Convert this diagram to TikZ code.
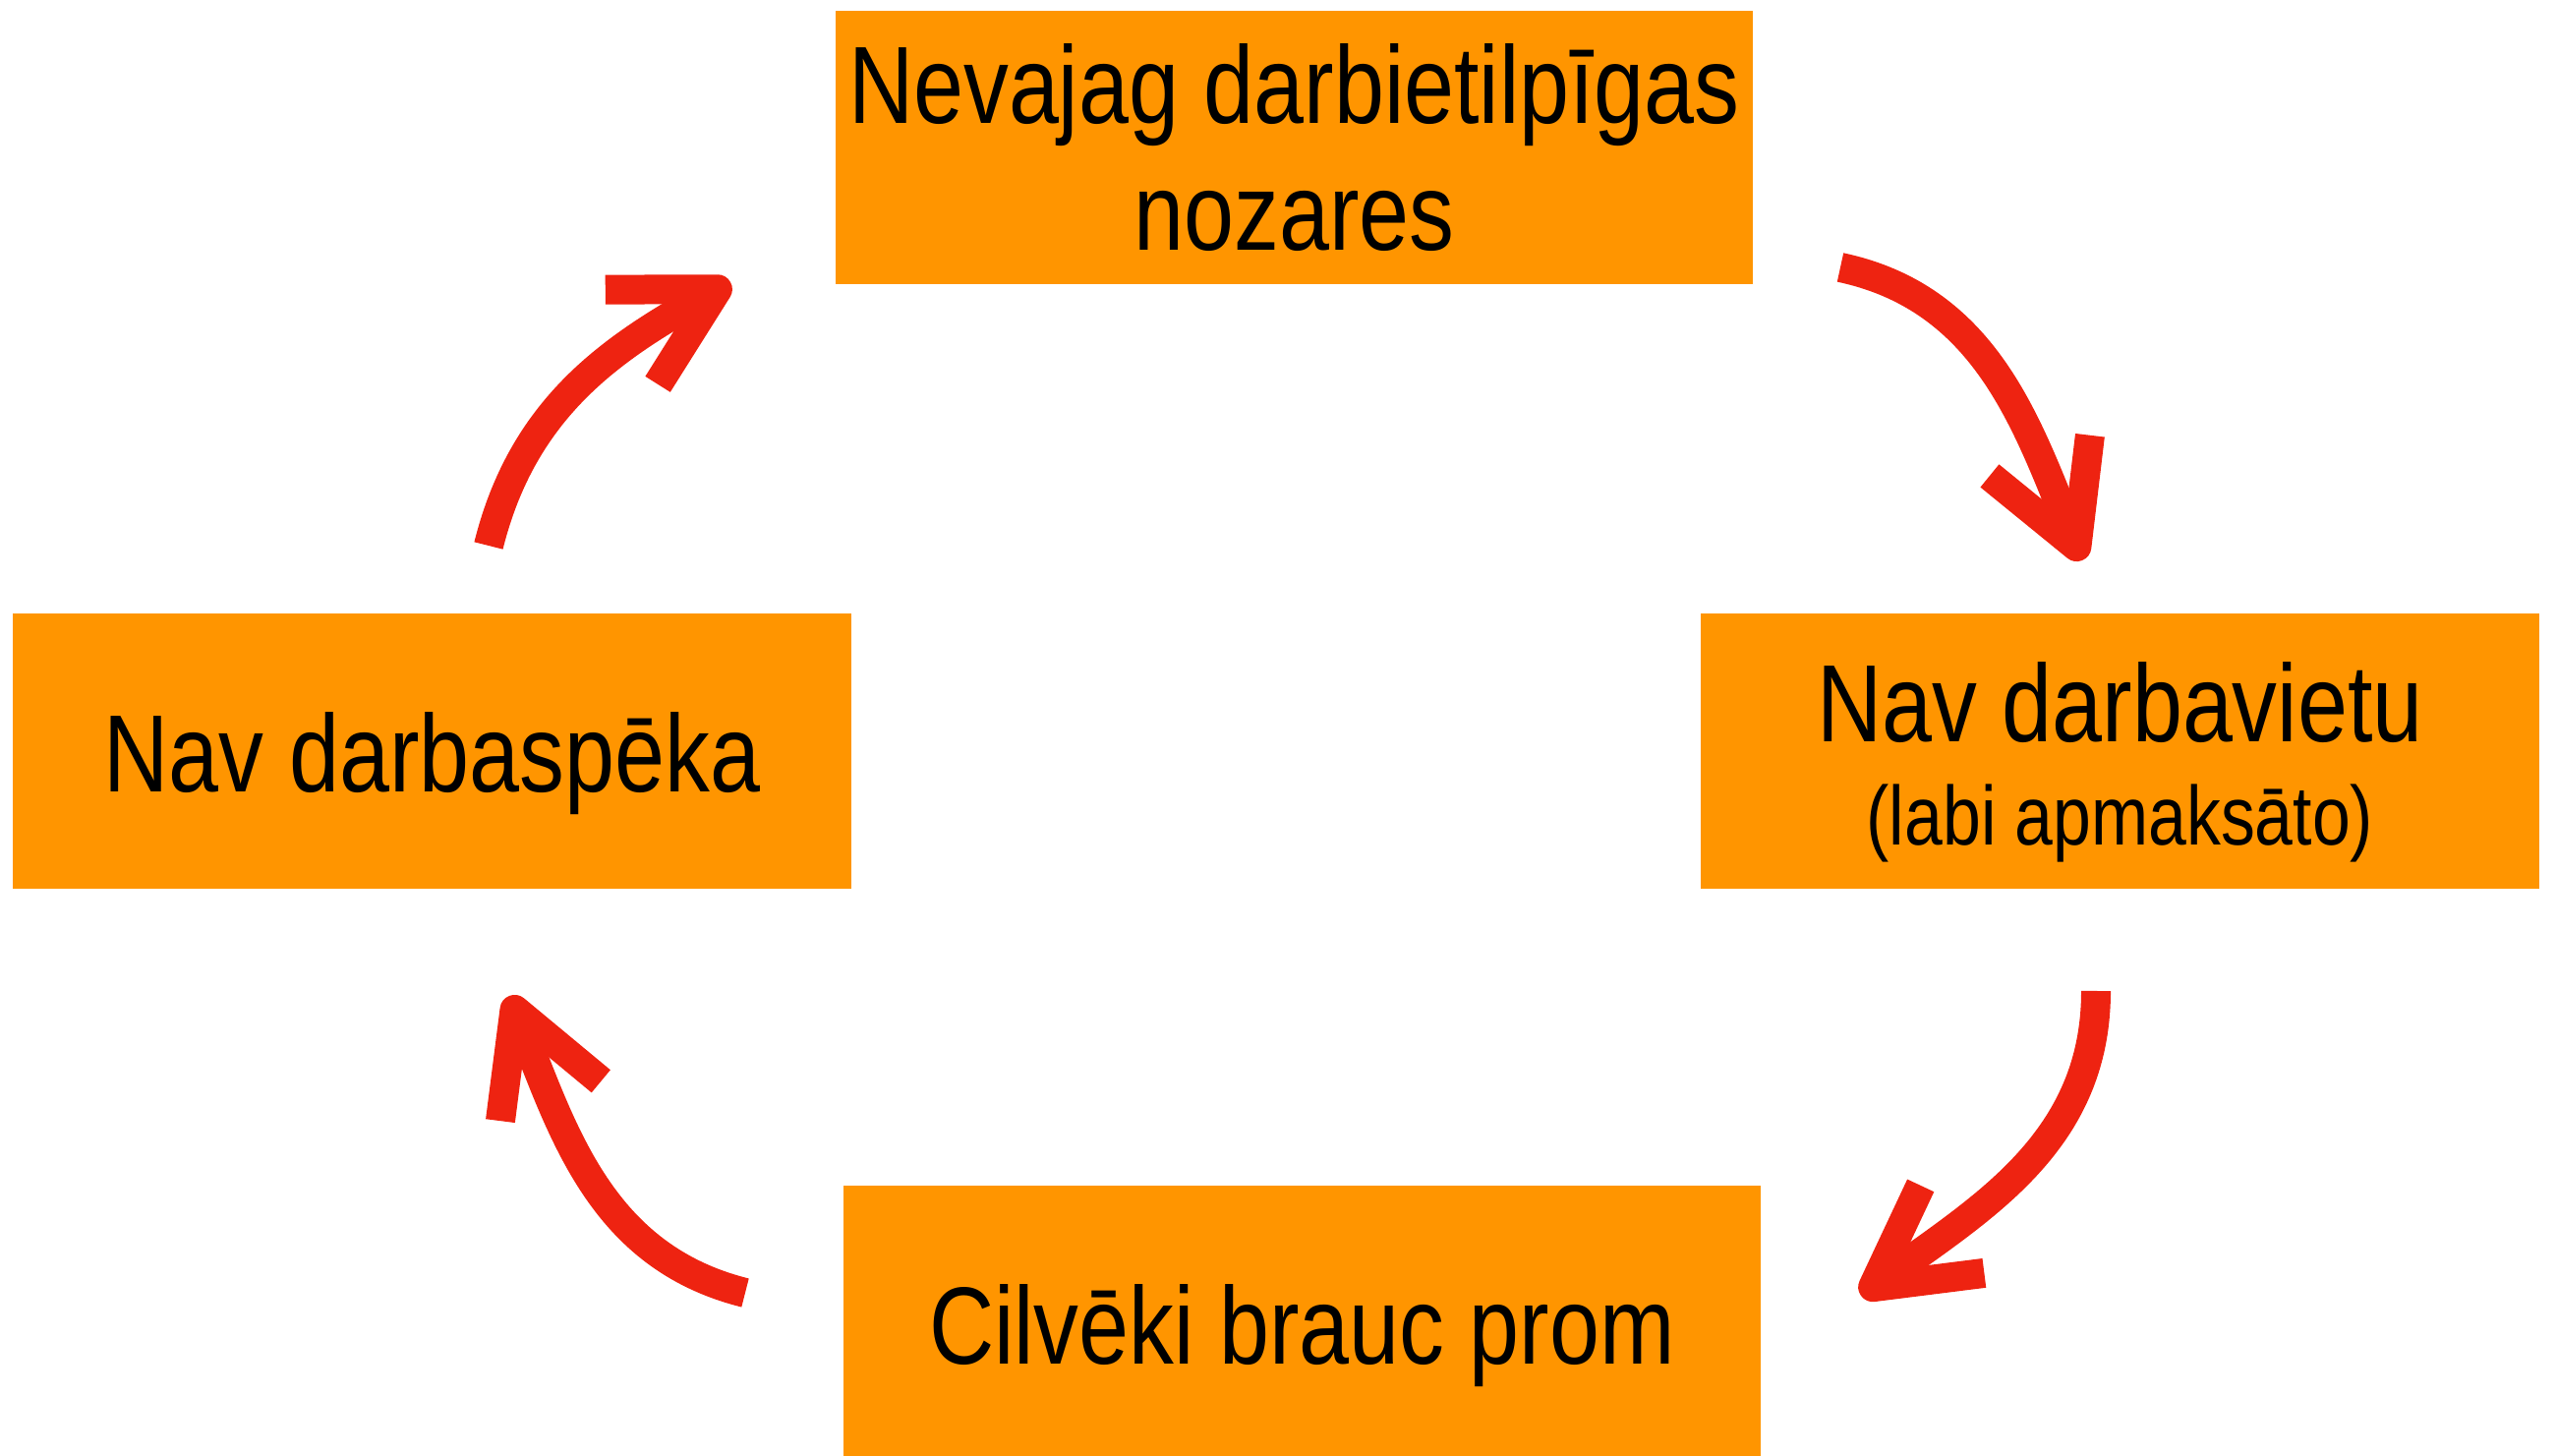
\documentclass[tikz,border=0pt]{standalone}
\usepackage{fontspec}
\setmainfont[FakeStretch=0.82]{Liberation Sans}
\usetikzlibrary{arrows.meta, positioning}
\definecolor{boxorange}{RGB}{255,149,0}
\definecolor{arrowred}{RGB}{238,35,17}

\begin{document}
\begin{tikzpicture}[
    cyclebox/.style={rectangle, fill=boxorange, inner sep=0pt, align=center},
    oneline/.style={text height=1.07cm, text depth=0.23cm},
    cyclearrow/.style={draw=arrowred, line width=0.3cm,
        -{Straight Barb[length=1cm, width=1.1cm, line join=round, line cap=butt]}}
]
\useasboundingbox (0,0) rectangle (26.01,14.81);

% Draw the boxes
\node[cyclebox, minimum width=9.33cm, minimum height=2.78cm,
    font=\fontsize{31.8}{36.7}\selectfont] (nozares) at (13.165,13.305)
    {Nevajag darbietilpīgas\\nozares};
\node[cyclebox, minimum width=8.53cm, minimum height=2.8cm,
    font=\fontsize{31.8}{29.9}\selectfont] (darbavietas) at (21.565,7.17)
    {\rule{0pt}{1.04cm}Nav darbavietu\\{\fontsize{24.2}{29}\selectfont (labi apmaksāto)}};
\node[cyclebox, oneline, minimum width=9.33cm, minimum height=2.8cm,
    font=\fontsize{31.8}{36.7}\selectfont] (aizbrauc) at (13.245,1.35)
    {Cilvēki brauc prom};
\node[cyclebox, oneline, minimum width=8.53cm, minimum height=2.8cm,
    font=\fontsize{31.8}{36.7}\selectfont] (darbaspeks) at (4.395,7.17)
    {Nav darbaspēka};

% Free ends of the arrows
\coordinate (s1) at (4.97,9.26);   \coordinate (e1) at (7.43,11.94);
\coordinate (s2) at (18.72,12.09); \coordinate (e2) at (21.18,9.11);
\coordinate (s3) at (21.32,4.73);  \coordinate (e3) at (18.93,1.63);
\coordinate (s4) at (7.58,1.66);   \coordinate (e4) at (5.18,4.68);

% Draw the cycle arrows
\draw[cyclearrow] (s1) to[out=76, in=209] (e1);
\draw[cyclearrow] (s2) to[out=-12, in=112] (e2);
\draw[cyclearrow] (s3) to[out=-90, in=36] (e3);
\draw[cyclearrow] (s4) to[out=166, in=-68.5] (e4);
\end{tikzpicture}
\end{document}
